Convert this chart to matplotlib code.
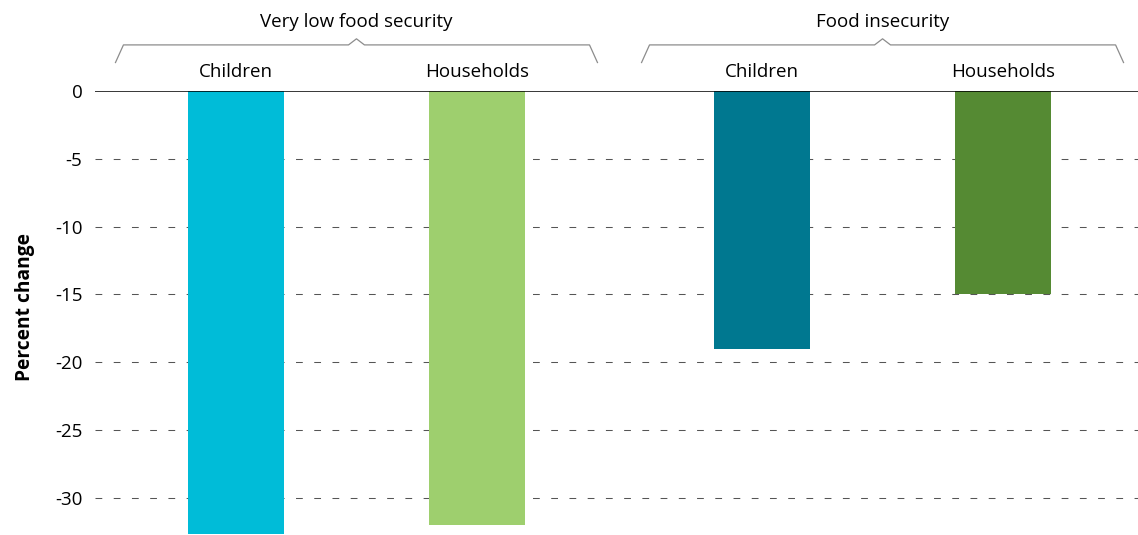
import matplotlib.pyplot as plt

groups = ['Very low food security', 'Food insecurity']
categories = ['Children', 'Households', 'Children', 'Households']
values = [-32.7, -32.0, -19.0, -15.0]
colors = ['#00bcd8', '#9ecf6e', '#007890', '#558a33']
yticks = [0, -5, -10, -15, -20, -25, -30]

plt.rcParams['font.family'] = ['Open Sans', 'DejaVu Sans']

# bar centres: pairs one unit apart, extra gap between the two groups
group_gap = 1.183
xpos = [0, 1, 1 + group_gap, 2 + group_gap]
width = 0.398

fig = plt.figure(figsize=(11.38, 5.35), dpi=100)
ax = fig.add_axes([95 / 1138, 0, 1043 / 1138, 444 / 535])

for y in yticks[1:]:
    ax.axhline(y, color='#555555', lw=0.75, ls=(0, (6.5, 11)), zorder=1)
ax.bar(xpos, values, width=width, color=colors, zorder=2)
ax.axhline(0, color='black', lw=1.1, zorder=3)

ax.set_xlim(-0.585, 3.743)
ax.set_ylim(-32.75, 0)
ax.set_xticks([])
ax.set_yticks(yticks)
ax.set_yticklabels([str(v) for v in yticks], fontsize=13.5)
ax.tick_params(axis='y', length=0, pad=9)
for s in ax.spines.values():
    s.set_visible(False)
ax.set_ylabel('Percent change', fontsize=13.8, fontweight='bold')
ax.yaxis.set_label_coords(-0.058, 0.513)

# category labels above the zero line
for x, c in zip(xpos, categories):
    ax.text(x, 1.4, c, ha='center', va='center', fontsize=13.5, clip_on=False)

# group braces and titles
for i, g in enumerate(groups):
    a, b = xpos[2 * i] - 0.5, xpos[2 * i + 1] + 0.5
    m = (xpos[2 * i] + xpos[2 * i + 1]) / 2
    d = 0.033
    bx = [a, a + d, m - d, m, m + d, b - d, b]
    by = [2.1, 3.4, 3.4, 3.85, 3.4, 3.4, 2.1]
    ax.plot(bx, by, color='#8c8c8c', lw=0.9, clip_on=False)
    ax.text(m, 5.1, g, ha='center', va='center', fontsize=13.5, clip_on=False)

fig.savefig('out.png', dpi=100)
